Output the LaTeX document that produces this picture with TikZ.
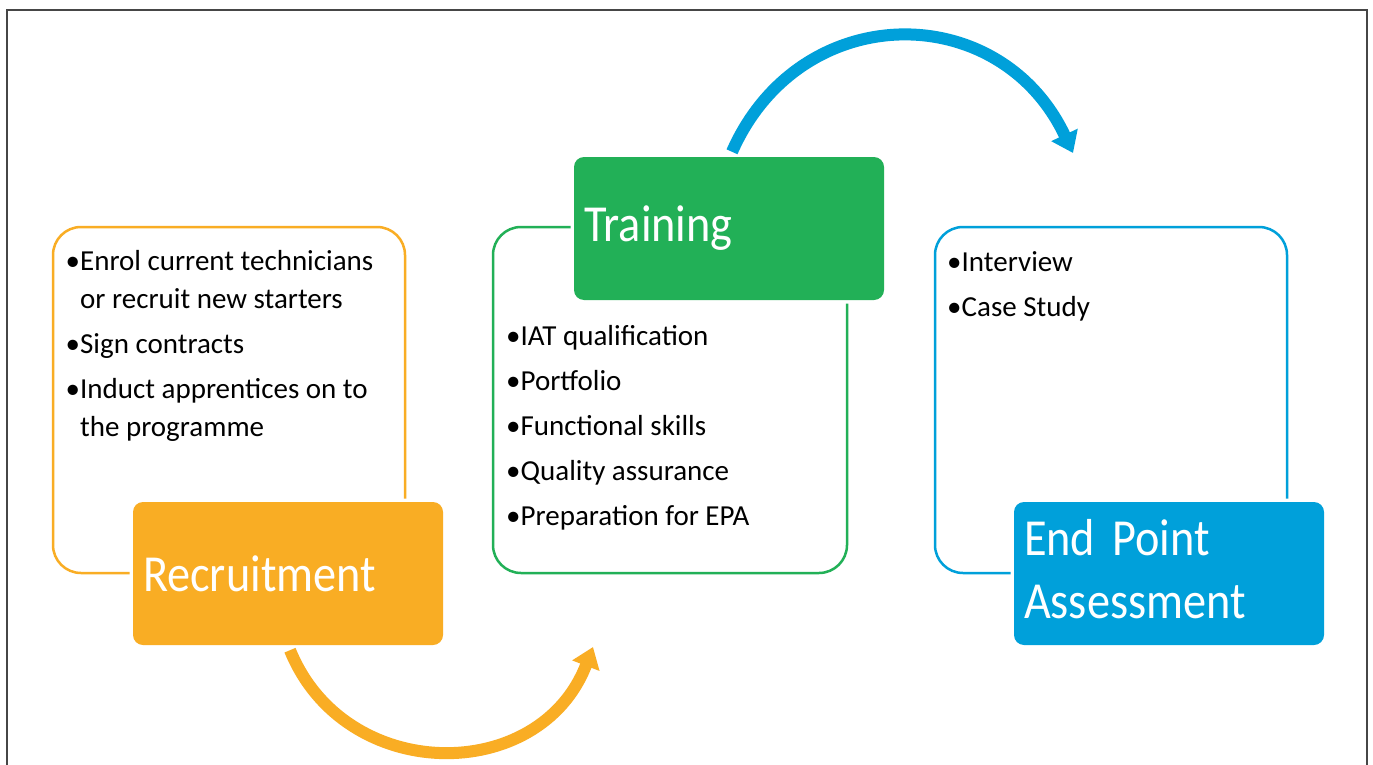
\documentclass[tikz,border=0pt]{standalone}
\usepackage{fontspec}
\setmainfont{Carlito}
\newfontfamily\titlefamily[FakeStretch=0.89]{Carlito}
\usetikzlibrary{arrows.meta}

\definecolor{recOrange}{RGB}{249,173,36}
\definecolor{trainGreen}{RGB}{34,176,87}
\definecolor{epaBlue}{RGB}{0,160,218}
\definecolor{frameGray}{RGB}{70,70,70}

\newcommand\listfont{\fontsize{29}{38}\selectfont}
\newcommand\titlefont{\titlefamily\fontsize{52}{63}\selectfont}
\newcommand\itemgap{\\[7pt]}
\newcommand\hang{\phantom{\textbullet}}

\tikzset{
  outlinebox/.style={line width=2.5pt, rounded corners=28pt},
  titlebox/.style={rectangle, rounded corners=10pt, minimum width=310pt,
    minimum height=143pt, text width=290pt, align=left, inner xsep=10pt,
    inner ysep=0pt, text=white, font=\titlefont,
    preaction={draw=white, line width=7pt}},
  listtext/.style={inner sep=0pt, anchor=base west, font=\listfont},
  flowarrow/.style={line width=12pt, -{Triangle[width=28pt,length=20pt]}}
}

\begin{document}
\begin{tikzpicture}[x=1pt, y=-1pt]
  \useasboundingbox (0,0) rectangle (1373,765);
  \fill[white] (0,0) rectangle (1373,765);

  % page frame, open at the bottom
  \draw[frameGray, line width=2.5pt] (7,765) -- (7,10) -- (1367,10) -- (1367,765);

  % outline panels holding the bullet lists
  \draw[outlinebox, recOrange] (53,227) rectangle (405,573);
  \draw[outlinebox, trainGreen] (493,227) rectangle (847,573);
  \draw[outlinebox, epaBlue] (935,227) rectangle (1287,573);

  % bullet lists
  \node[listtext] (recList) at (65.5,270) {\parbox[t]{340pt}{\raggedright
    \textbullet Enrol current technicians\\
    \hang or recruit new starters\itemgap
    \textbullet Sign contracts\itemgap
    \textbullet Induct apprentices on to\\
    \hang the programme}};
  \node[listtext] (trainList) at (506,345) {\parbox[t]{330pt}{\raggedright
    \textbullet IAT qualification\itemgap
    \textbullet Portfolio\itemgap
    \textbullet Functional skills\itemgap
    \textbullet Quality assurance\itemgap
    \textbullet Preparation for EPA}};
  \node[listtext] (epaList) at (947,271) {\parbox[t]{330pt}{\raggedright
    \textbullet Interview\itemgap
    \textbullet Case Study}};

  % stage title boxes
  \node[titlebox, fill=recOrange] (rec) at (288,573.5) {Recruitment};
  \node[titlebox, fill=trainGreen] (train) at (729,228.5) {Training};
  \node[titlebox, fill=epaBlue] (epa) at (1169,573.5)
    {\raisebox{0pt}[\height][9pt]{\parbox[b]{290pt}{\raggedright End Point\\Assessment}}};

  % connectors between the stages
  \coordinate (recTip) at (593,647);
  \coordinate (trainTip) at (1073,153);
  \draw[flowarrow, recOrange] ([xshift=2pt,yshift=-5pt]rec.south)
    .. controls (345,785) and (540,785) .. (recTip);
  \draw[flowarrow, epaBlue] ([xshift=3pt,yshift=5pt]train.north)
    .. controls (800,-2) and (1000,-2) .. (trainTip);
\end{tikzpicture}
\end{document}
